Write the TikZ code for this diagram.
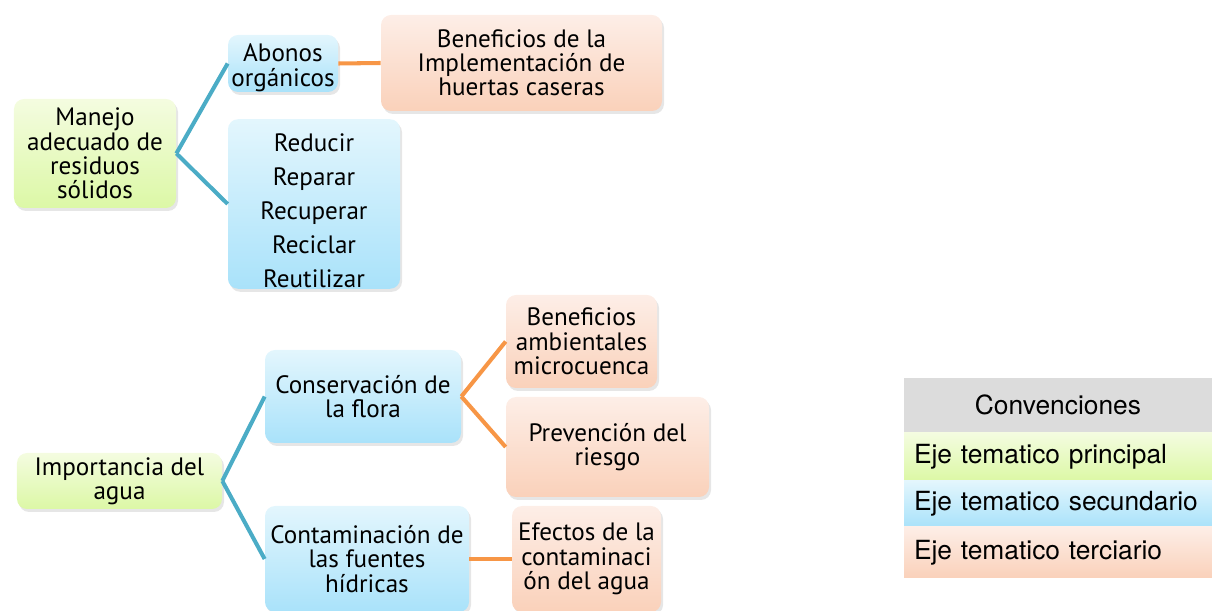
\documentclass[tikz,border=0pt]{standalone}
\usepackage{fontspec}
\setmainfont{PT Sans}
\newfontfamily\leyenda{TeX Gyre Heros}
\usetikzlibrary{calc,shadows}

\definecolor{verdeA}{HTML}{F4FCE0}
\definecolor{verdeB}{HTML}{DCF8A6}
\definecolor{azulA}{HTML}{E3F6FD}
\definecolor{azulB}{HTML}{A9E2FA}
\definecolor{naranjaA}{HTML}{FDEEE7}
\definecolor{naranjaB}{HTML}{FAD1BA}
\definecolor{grisL}{HTML}{DCDCDC}
\definecolor{lineaAzul}{HTML}{4BACC6}
\definecolor{lineaNaranja}{HTML}{F79646}

\tikzset{
  caja/.style={rounded corners=0.2cm, align=center, inner sep=0pt,
    font=\fontsize{14.3}{13.8}\selectfont,
    drop shadow={opacity=0.2, shadow xshift=0.04cm, shadow yshift=-0.06cm}},
  principal/.style={caja, top color=verdeA, bottom color=verdeB},
  secundario/.style={caja, top color=azulA, bottom color=azulB},
  terciario/.style={caja, top color=naranjaA, bottom color=naranjaB},
  ramaA/.style={line width=2.3pt, lineaAzul},
  ramaB/.style={line width=2.3pt, lineaNaranja},
  fila/.style={minimum width=6.16cm, inner sep=0pt, inner xsep=0.2cm,
    text width=5.76cm, align=left, font=\leyenda\fontsize{15}{17}\selectfont}
}

\begin{document}
\begin{tikzpicture}
			\useasboundingbox (0,0) rectangle (24.24,-12.22);

			% residuos solidos
			\node[principal, minimum width=3.24cm, minimum height=2.18cm] (MA) at (1.9,-3.07) {Manejo\\adecuado de\\residuos\\sólidos};
			\node[secundario, minimum width=2.2cm, minimum height=1.14cm] (AB) at (5.66,-1.27) {\raisebox{-0.1cm}[\height][\depth]{\begin{tabular}{@{}c@{}}Abonos\\orgánicos\end{tabular}}};
			\node[terciario, minimum width=5.62cm, minimum height=1.92cm] (BH) at (10.43,-1.26) {Beneficios de la\\Implementación de\\huertas caseras};
			\node[secundario, minimum width=3.44cm, minimum height=3.36cm, font=\fontsize{14.3}{19.3}\selectfont] (RE) at (6.28,-4.08) {\raisebox{-0.18cm}[\height][\depth]{\begin{tabular}{@{}c@{}}Reducir\\Reparar\\Recuperar\\Reciclar\\Reutilizar\end{tabular}}};

			\draw[ramaA] (MA.east)--(AB.west);
			\draw[ramaA] (MA.east)--(RE.west);
			\draw[ramaB] (AB.east)--(BH.west);

			% agua
			\node[principal, minimum width=4.1cm, minimum height=1.12cm] (IA) at (2.39,-9.62) {Importancia del\\agua};
			\node[secundario, minimum width=3.92cm, minimum height=1.86cm] (CF) at (7.26,-7.93) {Conservación de\\la flora};
			\node[secundario, minimum width=4.08cm, minimum height=2.12cm] (CH) at (7.34,-11.18) {Contaminación de\\las fuentes\\hídricas};
			\node[terciario, minimum width=3.02cm, minimum height=1.86cm] (BA) at (11.63,-6.83) {Beneficios\\ambientales\\microcuenca};
			\node[terciario, minimum width=4.06cm, minimum height=2.0cm] (PR) at (12.15,-8.94) {Prevención del\\riesgo};
			\node[terciario, minimum width=2.98cm, minimum height=2.12cm] (EC) at (11.73,-11.18) {Efectos de la\\contaminaci\\ón del agua};

			\draw[ramaA] (IA.east)--(CF.west);
			\draw[ramaA] (IA.east)--(CH.west);
			\draw[ramaB] (CF.east)--(BA.west);
			\draw[ramaB] (CF.east)--(PR.west);
			\draw[ramaB] (CH.east)--(EC.west);

			% convenciones
			\node[fila, fill=grisL, minimum height=1.08cm, align=center] (L0) at (21.16,-8.10) {Convenciones};
			\node[fila, top color=verdeA, bottom color=verdeB, minimum height=0.94cm] (L1) at (21.16,-9.13) {Eje tematico principal};
			\node[fila, top color=azulA, bottom color=azulB, minimum height=0.92cm] (L2) at (21.16,-10.08) {Eje tematico secundario};
			\node[fila, top color=naranjaA, bottom color=naranjaB, minimum height=1.02cm] (L3) at (21.16,-11.05) {Eje tematico terciario};
		\end{tikzpicture}
\end{document}
